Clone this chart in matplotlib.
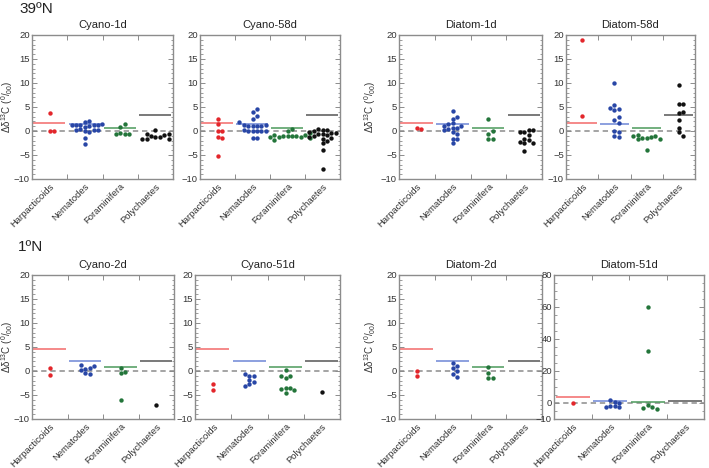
import matplotlib
matplotlib.use('Agg')
import matplotlib.pyplot as plt
import matplotlib.transforms as mtransforms
import numpy as np
from matplotlib.ticker import FixedLocator, NullFormatter, MultipleLocator

plt.rcParams['font.family'] = ['Liberation Sans', 'DejaVu Sans']
plt.rcParams['mathtext.fontset'] = 'custom'
plt.rcParams['mathtext.rm'] = 'Liberation Sans'
plt.rcParams['mathtext.it'] = 'Liberation Sans:italic'

categories = ['Harpacticoids', 'Nematodes', 'Foraminifera', 'Polychaetes']
colors = ['#e3262b', '#2846a6', '#23753a', '#111111']
line_colors = ['#f26a6a', '#6d86d6', '#4b9a5b', '#555555']

# ---- 39ºN ----
cyano1d_harp = [3.7, 0.0, -0.1]
cyano1d_nem = [2.0, 1.9, 1.5, 1.3, 1.3, 1.3, 1.3, 1.3, 1.0, 0.9, 0.4, 0.3, 0.2, 0.2, 0.0, -0.3, -1.4, -2.7]
cyano1d_fora = [1.4, 0.8, -0.4, -0.6, -0.7, -0.7]
cyano1d_poly = [0.2, -0.6, -0.7, -0.9, -1.1, -1.3, -1.3, -1.6, -1.6, -1.7]

cyano58d_harp = [2.4, 1.5, -0.1, 0.0, -1.2, -1.5, -5.3]
cyano58d_nem = [4.6, 4.0, 3.1, 2.4, 1.8, 1.3, 1.2, 1.1, 1.0, 1.0, 1.0, 0.3, 0.1, 0.0, 0.0, -0.1, -0.1, -1.5, -1.5]
cyano58d_fora = [0.4, 0.0, -0.5, -0.8, -0.9, -1.0, -1.0, -1.1, -1.1, -1.2, -1.2, -1.3, -1.4, -1.8]
cyano58d_poly = [0.5, 0.3, 0.2, 0.0, -0.3, -0.4, -0.5, -0.6, -0.7, -0.8, -1.0, -1.2, -1.4, -1.6, -2.0, -2.5, -3.9, -8.0]

diatom1d_harp = [0.6, 0.4]
diatom1d_nem = [4.2, 3.0, 2.6, 1.6, 1.5, 1.1, 1.0, 0.7, 0.7, 0.4, 0.2, -0.2, -0.6, -1.6, -1.6, -2.6]
diatom1d_fora = [2.4, 0.1, -0.6, -1.6, -1.6]
diatom1d_poly = [0.3, 0.3, -0.3, -0.9, -0.2, -1.7, -1.8, -2.3, -2.6, -2.6, -4.2]

diatom58d_harp = [19.0, 3.1]
diatom58d_nem = [10.1, 5.5, 4.8, 4.6, 4.4, 2.9, 2.2, 1.7, 0.0, -0.2, -1.0, -1.3]
diatom58d_fora = [-1.1, -1.4, -1.7, -0.8, -1.7, -1.5, -1.3, -1.0, -3.9]
diatom58d_poly = [9.6, 5.6, 5.6, 3.7, 3.9, 2.3, 0.6, -0.3, -1.1]

# ---- 1ºN ----
cyano2d_harp = [0.55, -0.9]
cyano2d_nem = [1.3, 1.1, 0.7, 0.5, 0.3, -0.4, -0.6]
cyano2d_fora = [0.6, -0.2, -0.4, -6.0]
cyano2d_poly = [-7.0]

cyano51d_harp = [-2.7, -4.0]
cyano51d_nem = [-0.55, -1.1, -0.95, -1.9, -2.3, -2.8, -3.1]
cyano51d_fora = [0.3, -1.1, -1.5, -0.95, -3.6, -3.9, -4.5, -3.8, -3.6]
cyano51d_poly = [-4.4]

diatom2d_harp = [0.0, -1.1]
diatom2d_nem = [1.7, 1.0, 0.6, 0.0, -0.7, -1.2]
diatom2d_fora = [0.8, -0.5, -1.4, -1.4]
diatom2d_poly = []

diatom51d_harp = [-0.2]
diatom51d_nem = [2.1, 0.8, 0.2, -1.8, -2.4, -2.6, -2.1]
diatom51d_fora = [60.2, 32.8, -1.5, -3.4, -4.0, -2.3]
diatom51d_poly = []

# reference (food source) lines
ref_39N = [1.6, 1.5, 0.7, 3.3]
ref_1N = [4.5, 2.0, 0.8, 2.0]
ref_diatom51d = [4.0, 1.3, 0.8, 1.5]

ylabel = 'Δδ$^{13}$C ($^{0}$/$_{00}$)'

W, H = 709, 468
fig = plt.figure(figsize=(W / 100, H / 100), dpi=100)


def rect(l, r, t, b):
    return [l / W, 1 - b / H, (r - l) / W, (b - t) / H]


def swarm(ax, ys, center, d_px=4.4, thr=4.2):
    bb = ax.get_window_extent()
    x0, x1 = ax.get_xlim()
    y0, y1 = ax.get_ylim()
    sx = bb.width / (x1 - x0)
    sy = bb.height / (y1 - y0)
    ys = np.asarray(ys, float)
    med = np.median(ys)
    order = np.argsort(np.abs(ys - med), kind='stable')
    placed = []
    offs = np.zeros(len(ys))
    cands = [0]
    for k in range(1, 12):
        cands += [k, -k]
    for idx in order:
        ypx = ys[idx] * sy
        for c in cands:
            xpx = c * d_px
            ok = True
            for (px, py) in placed:
                if (px - xpx) ** 2 + (py - ypx) ** 2 < thr ** 2:
                    ok = False
                    break
            if ok:
                placed.append((xpx, ypx))
                offs[idx] = xpx / sx
                break
    return center + offs


def panel(r, title, groups, ref, ylim, major, minor, ylabel_off=None, yticks=None):
    ax = fig.add_axes(rect(*r))
    ax.set_xlim(0, 4)
    ax.set_ylim(*ylim)
    ax.axhline(0, color='#8c8c8c', ls=(0, (3.5, 2.5)), lw=1.1, zorder=1)
    for i, (g, col) in enumerate(zip(groups, colors)):
        ax.hlines(ref[i], i + 0.04, i + 0.95, color=line_colors[i], lw=1.1, zorder=2)
        if len(g):
            xs = swarm(ax, g, i + 0.5)
            ax.scatter(xs, g, s=10, color=col, linewidths=0, zorder=3)
    ax.set_title(title, fontsize=8, pad=5, color='#222222')
    ax.xaxis.set_major_locator(FixedLocator([1, 2, 3]))
    ax.xaxis.set_major_formatter(NullFormatter())
    ax.xaxis.set_minor_locator(FixedLocator([0.5, 1.5, 2.5, 3.5]))
    ax.set_xticklabels(categories, minor=True, rotation=45, ha='right', va='top',
                       rotation_mode='anchor', fontsize=6.2, color='#333333')
    off = mtransforms.ScaledTranslation(5 / 100, 3.5 / 100, fig.dpi_scale_trans)
    for lab in ax.get_xticklabels(minor=True):
        lab.set_transform(lab.get_transform() + off)
    if yticks is not None:
        ax.yaxis.set_major_locator(FixedLocator(yticks))
    else:
        ax.yaxis.set_major_locator(MultipleLocator(major))
    ax.yaxis.set_minor_locator(MultipleLocator(minor))
    ax.tick_params(axis='both', which='both', direction='in', top=True, right=True,
                   color='#8c8c8c', labelcolor='#333333', labelsize=6.8)
    ax.tick_params(axis='both', which='major', length=3.5, width=0.7)
    ax.tick_params(axis='y', which='minor', length=1.8, width=0.6)
    ax.tick_params(axis='x', which='minor', length=0, pad=2)
    ax.tick_params(axis='y', which='major', pad=1.5)
    for s in ax.spines.values():
        s.set_color('#8c8c8c')
        s.set_linewidth(1.0)
    if ylabel_off is not None:
        ax.set_ylabel(ylabel, fontsize=7, color='#333333')
        ax.yaxis.set_label_coords(-ylabel_off / (r[1] - r[0]), 0.5)
    return ax


top = (35, 179)
bot = (275, 419)
panel((32, 173, *top), 'Cyano-1d', [cyano1d_harp, cyano1d_nem, cyano1d_fora, cyano1d_poly],
      ref_39N, (-10, 20), 5, 1, ylabel_off=17)
panel((200, 340, *top), 'Cyano-58d', [cyano58d_harp, cyano58d_nem, cyano58d_fora, cyano58d_poly],
      ref_39N, (-10, 20), 5, 1)
panel((399, 542, *top), 'Diatom-1d', [diatom1d_harp, diatom1d_nem, diatom1d_fora, diatom1d_poly],
      ref_39N, (-10, 20), 5, 1, ylabel_off=21)
panel((566, 695, *top), 'Diatom-58d', [diatom58d_harp, diatom58d_nem, diatom58d_fora, diatom58d_poly],
      ref_39N, (-10, 20), 5, 1)

panel((32, 174, *bot), 'Cyano-2d', [cyano2d_harp, cyano2d_nem, cyano2d_fora, cyano2d_poly],
      ref_1N, (-10, 20), 5, 1, ylabel_off=17)
panel((195, 340, *bot), 'Cyano-51d', [cyano51d_harp, cyano51d_nem, cyano51d_fora, cyano51d_poly],
      ref_1N, (-10, 20), 5, 1)
panel((399, 542, *bot), 'Diatom-2d', [diatom2d_harp, diatom2d_nem, diatom2d_fora, diatom2d_poly],
      ref_1N, (-10, 20), 5, 1, ylabel_off=21)
panel((554, 704, *bot), 'Diatom-51d', [diatom51d_harp, diatom51d_nem, diatom51d_fora, diatom51d_poly],
      ref_diatom51d, (-10, 80), 20, 5, yticks=[-10, 0, 20, 40, 60, 80])

fig.text(19 / W, 1 - 2 / H, '39ºN', fontsize=11, va='top', ha='left', color='#222222')
fig.text(18 / W, 1 - 240 / H, '1ºN', fontsize=11, va='top', ha='left', color='#222222')

fig.savefig('out.png', dpi=100)
